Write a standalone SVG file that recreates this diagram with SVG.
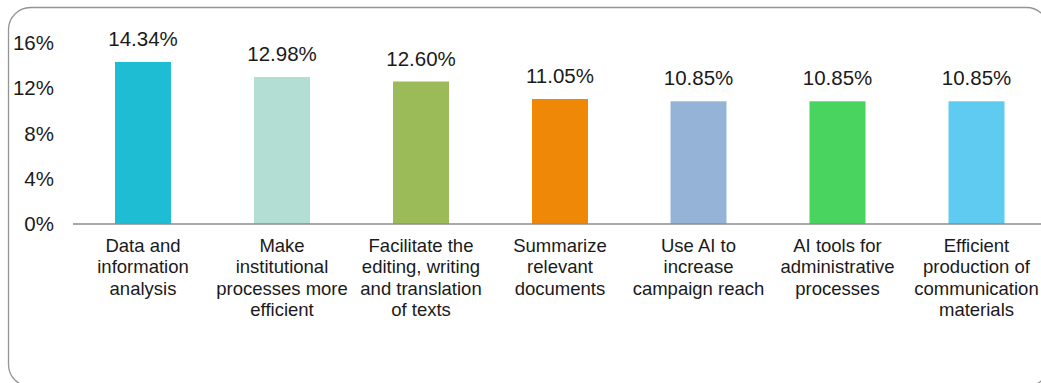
<svg xmlns="http://www.w3.org/2000/svg" width="1041" height="383" viewBox="0 0 1041 383">
<style>
text{font-family:"Liberation Sans",Arial,sans-serif;fill:#1a1a1a}
.tick{font-size:20.5px;text-anchor:end}
.val{font-size:20.5px;text-anchor:middle}
.cat{font-size:18.5px;text-anchor:middle}
</style>
<rect x="8.5" y="7.5" width="1040" height="379" rx="22" ry="22" fill="#ffffff" stroke="#949494" stroke-width="1.3"/>
<g id="axis">
<text class="tick" x="54" y="50">16%</text>
<text class="tick" x="54" y="95">12%</text>
<text class="tick" x="54" y="141">8%</text>
<text class="tick" x="54" y="186">4%</text>
<text class="tick" x="54" y="231">0%</text>
</g>
<g id="bar1">
<rect x="115" y="62" width="56" height="162" fill="#1FBDD4"/>
<text class="val" x="143" y="46">14.34%</text>
<text class="cat" x="143" y="252">Data and</text>
<text class="cat" x="143" y="273.3">information</text>
<text class="cat" x="143" y="294.6">analysis</text>
</g>
<g id="bar2">
<rect x="254" y="77" width="56" height="147" fill="#B3DED4"/>
<text class="val" x="282" y="61">12.98%</text>
<text class="cat" x="282" y="252">Make</text>
<text class="cat" x="282" y="273.3">institutional</text>
<text class="cat" x="282" y="294.6">processes more</text>
<text class="cat" x="282" y="315.9">efficient</text>
</g>
<g id="bar3">
<rect x="393" y="81.5" width="56" height="142.5" fill="#9BBB59"/>
<text class="val" x="421" y="65.5">12.60%</text>
<text class="cat" x="421" y="252">Facilitate the</text>
<text class="cat" x="421" y="273.3">editing, writing</text>
<text class="cat" x="421" y="294.6">and translation</text>
<text class="cat" x="421" y="315.9">of texts</text>
</g>
<g id="bar4">
<rect x="532" y="99" width="56" height="125" fill="#EE8806"/>
<text class="val" x="560" y="83">11.05%</text>
<text class="cat" x="560" y="252">Summarize</text>
<text class="cat" x="560" y="273.3">relevant</text>
<text class="cat" x="560" y="294.6">documents</text>
</g>
<g id="bar5">
<rect x="670.5" y="101.3" width="56" height="122.7" fill="#95B3D7"/>
<text class="val" x="698.5" y="85.3">10.85%</text>
<text class="cat" x="698.5" y="252">Use AI to</text>
<text class="cat" x="698.5" y="273.3">increase</text>
<text class="cat" x="698.5" y="294.6">campaign reach</text>
</g>
<g id="bar6">
<rect x="809.5" y="101.3" width="56" height="122.7" fill="#48D45E"/>
<text class="val" x="837.5" y="85.3">10.85%</text>
<text class="cat" x="837.5" y="252">AI tools for</text>
<text class="cat" x="837.5" y="273.3">administrative</text>
<text class="cat" x="837.5" y="294.6">processes</text>
</g>
<g id="bar7">
<rect x="948.5" y="101.3" width="56" height="122.7" fill="#60CBF1"/>
<text class="val" x="976.5" y="85.3">10.85%</text>
<text class="cat" x="976.5" y="252">Efficient</text>
<text class="cat" x="976.5" y="273.3">production of</text>
<text class="cat" x="976.5" y="294.6">communication</text>
<text class="cat" x="976.5" y="315.9">materials</text>
</g>
<g id="connectors">
<line x1="73" y1="224" x2="1041" y2="224" stroke="#8c8c8c" stroke-width="1.5"/>
</g>
</svg>
